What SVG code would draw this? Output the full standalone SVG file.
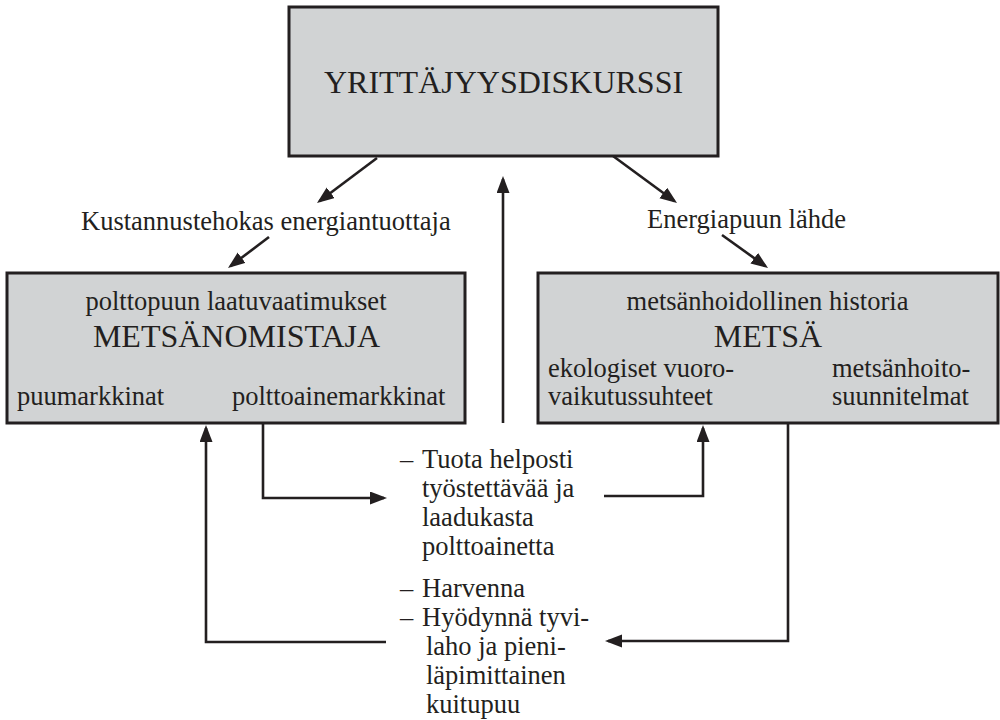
<svg xmlns="http://www.w3.org/2000/svg" width="1000" height="720" viewBox="0 0 1000 720">
<style>
  .box { fill: #d1d3d4; stroke: #231f20; stroke-width: 3; }
  text { font-family: 'Liberation Serif', 'DejaVu Serif', serif; fill: #231f20; font-size: 26.5px; }
  .big { font-size: 32px; }
  .mid { text-anchor: middle; }
  .conn { fill: none; stroke: #231f20; stroke-width: 2.6; marker-end: url(#ah); }
</style>
<defs>
  <marker id="ah" markerUnits="userSpaceOnUse" markerWidth="18" markerHeight="14" viewBox="0 0 18 14" refX="14" refY="6.5" orient="auto">
    <path d="M0,0 L17,6.5 L0,13 z" fill="#231f20"/>
  </marker>
</defs>
<rect x="0" y="0" width="1000" height="720" fill="#ffffff"/>
<g id="connectors">
  <line class="conn" x1="377" y1="158" x2="319.4" y2="201.2"/>
  <line class="conn" x1="269" y1="237" x2="230.4" y2="266.2"/>
  <line class="conn" x1="613" y1="156" x2="674.6" y2="201.2"/>
  <line class="conn" x1="722" y1="235" x2="765.6" y2="266.3"/>
  <line class="conn" x1="503" y1="423" x2="503" y2="179"/>
  <path class="conn" d="M263,424 V498 H384"/>
  <path class="conn" d="M386,642 H206 V428"/>
  <path class="conn" d="M604,496 H703 V428"/>
  <path class="conn" d="M788,424 V641 H608"/>
</g>
<g id="yrittajyysdiskurssi" font-family="Liberation Serif, serif">
  <rect class="box" x="289" y="7" width="429" height="149"/>
  <text class="big mid" x="503.5" y="93">YRITTÄJYYSDISKURSSI</text>
</g>
<g id="label-kustannustehokas" font-family="Liberation Serif, serif">
  <text x="81" y="230">Kustannustehokas energiantuottaja</text>
</g>
<g id="label-energiapuun" font-family="Liberation Serif, serif">
  <text x="647" y="228">Energiapuun lähde</text>
</g>
<g id="metsanomistaja" font-family="Liberation Serif, serif">
  <rect class="box" x="7" y="273" width="458" height="150"/>
  <text class="mid" x="236" y="310">polttopuun laatuvaatimukset</text>
  <text class="big mid" x="236.5" y="347">METSÄNOMISTAJA</text>
  <text x="17" y="405">puumarkkinat</text>
  <text x="232" y="405">polttoainemarkkinat</text>
</g>
<g id="metsa" font-family="Liberation Serif, serif">
  <rect class="box" x="538" y="273" width="460" height="150"/>
  <text class="mid" x="767.5" y="310">metsänhoidollinen historia</text>
  <text class="big mid" x="768" y="347">METSÄ</text>
  <text x="548" y="377">ekologiset vuoro-</text>
  <text x="548" y="405">vaikutussuhteet</text>
  <text x="832" y="377">metsänhoito-</text>
  <text x="832" y="405">suunnitelmat</text>
</g>
<g id="ohje-tuota" font-family="Liberation Serif, serif">
  <text x="400" y="468">–</text>
  <text x="422" y="468">Tuota helposti</text>
  <text x="422" y="497">työstettävää ja</text>
  <text x="422" y="526">laadukasta</text>
  <text x="422" y="555">polttoainetta</text>
</g>
<g id="ohje-harvenna" font-family="Liberation Serif, serif">
  <text x="400" y="597">–</text>
  <text x="422" y="597">Harvenna</text>
  <text x="400" y="626">–</text>
  <text x="422" y="626">Hyödynnä tyvi-</text>
  <text x="426" y="655">laho ja pieni-</text>
  <text x="426" y="684">läpimittainen</text>
  <text x="426" y="713">kuitupuu</text>
</g>
</svg>
